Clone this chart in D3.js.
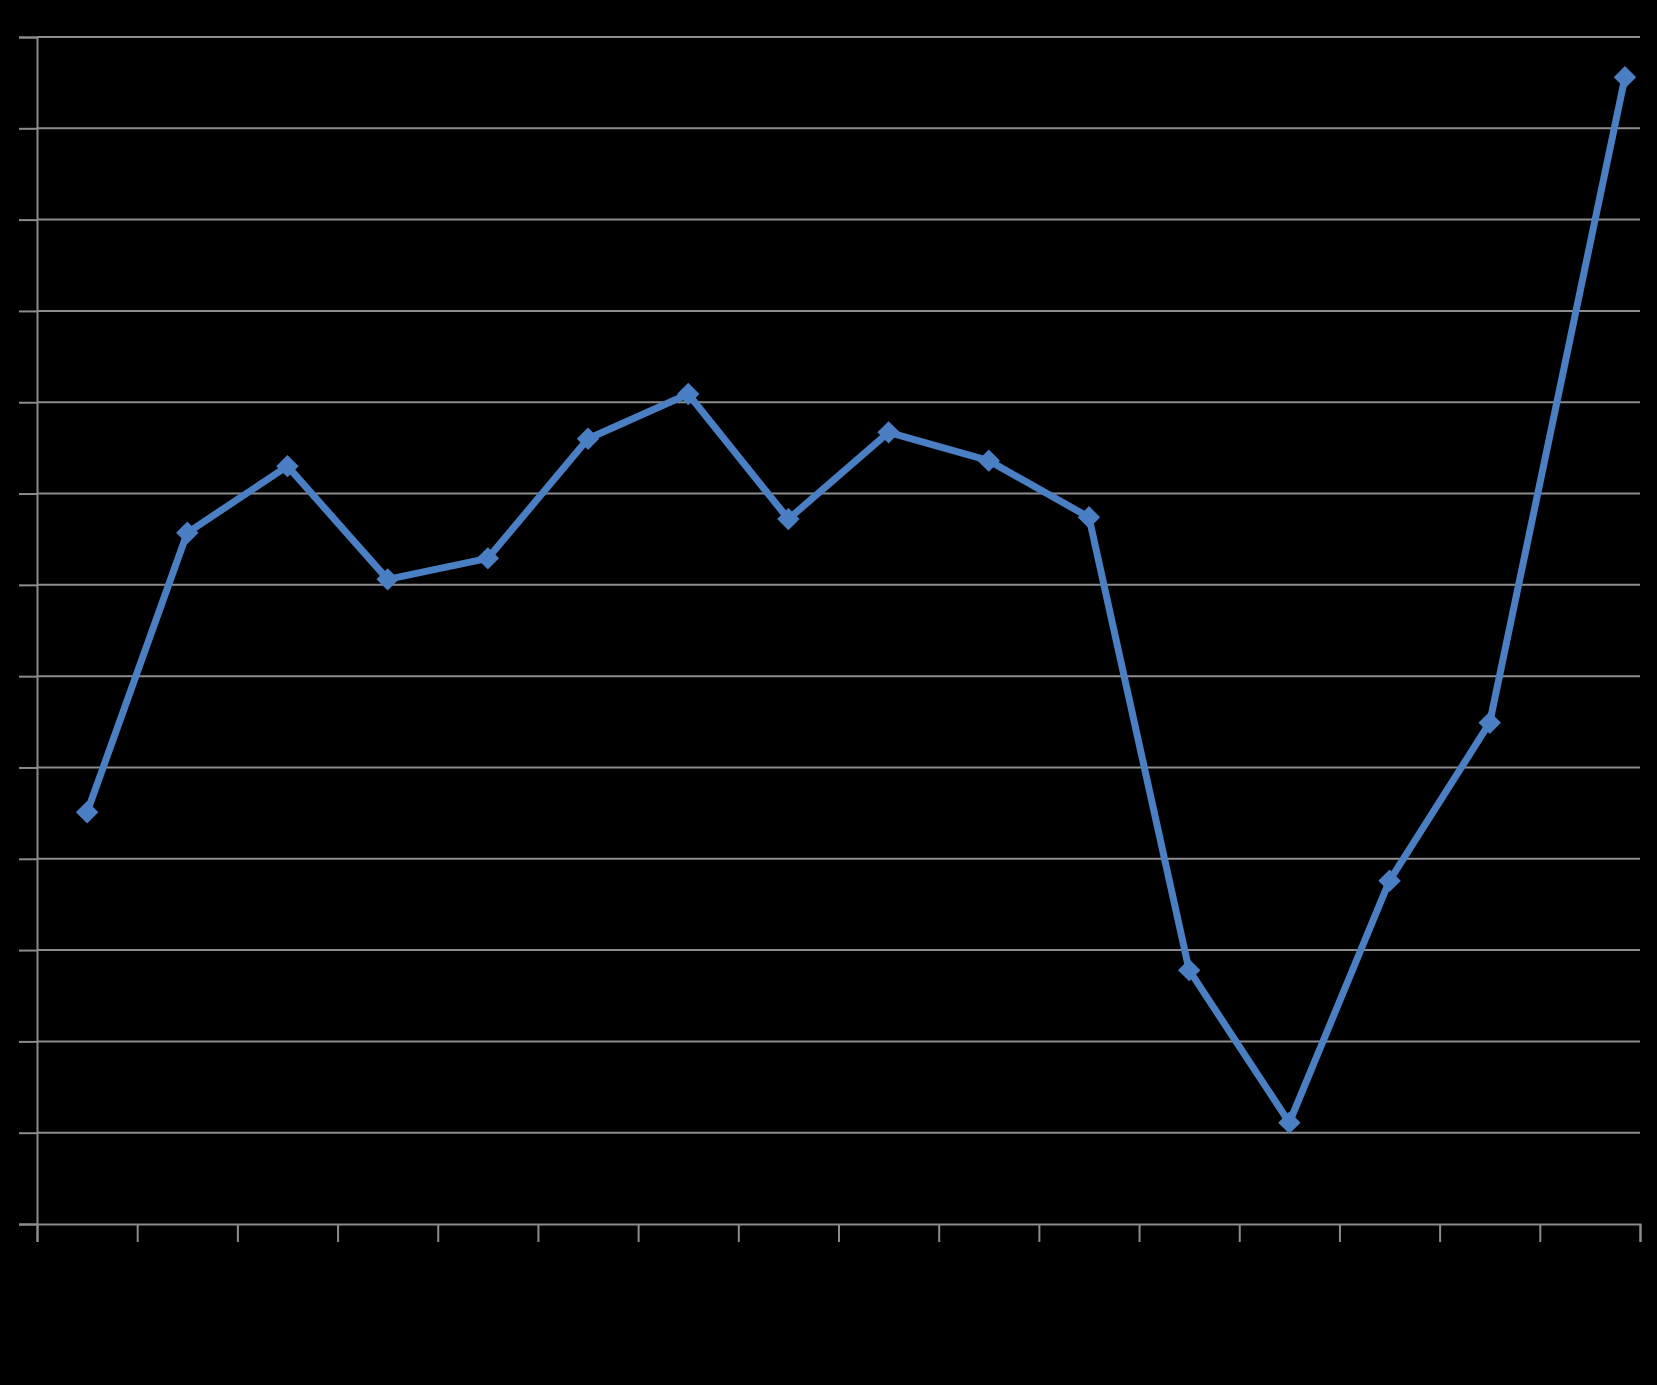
<!DOCTYPE html>
<html>
<head>
<meta charset="utf-8">
<script src="https://cdn.jsdelivr.net/npm/d3@7"></script>
<style>
  html, body { margin: 0; padding: 0; background: #000; }
  svg { display: block; }
</style>
</head>
<body>
<svg id="chart" width="1657" height="1385"></svg>
<script>
// ---- data ----
const categories = ["1","2","3","4","5","6","7","8","9","10","11","12","13","14","15","16"];
const xPositions = [1,2,3,4,5,6,7,8,9,10,11,12,13,14,15,16.35];
const seriesValues = [4.51,7.57,8.30,7.06,7.29,8.60,9.09,7.72,8.67,8.36,7.74,2.78,1.11,3.76,5.49,12.56];
const yTickValues = [0,1,2,3,4,5,6,7,8,9,10,11,12,13];

// ---- layout ----
const svg = d3.select("#chart");
const W = 1657, H = 1385;
const m = { left: 37, right: 17, top: 37, bottom: 161 };
const iw = W - m.left - m.right, ih = H - m.top - m.bottom;

svg.append("rect").attr("width", W).attr("height", H).attr("fill", "#000");

const g = svg.append("g").attr("transform", `translate(${m.left},${m.top})`);

const x = d3.scaleLinear().domain([0.5, categories.length + 0.5]).range([0, iw]);
const y = d3.scaleLinear().domain([0, 13]).range([ih, 0]);

const gridColor = "#8c8c8c";

// horizontal gridlines
g.append("g").selectAll("line").data(yTickValues.slice(1)).join("line")
  .attr("x1", 0).attr("x2", iw)
  .attr("y1", d => y(d)).attr("y2", d => y(d))
  .attr("stroke", gridColor).attr("stroke-width", 2);

// y axis
const yAxis = g.append("g").call(d3.axisLeft(y).tickValues(yTickValues).tickSize(18).tickPadding(2));
yAxis.select(".domain").attr("stroke", gridColor).attr("stroke-width", 2);
yAxis.selectAll(".tick line").attr("stroke", gridColor).attr("stroke-width", 2);
yAxis.selectAll("text").attr("fill", "#000").style("font-family", "'Liberation Sans', sans-serif").style("font-size", "11px");

// x axis with boundary ticks
const boundaries = d3.range(0.5, categories.length + 1, 1);
const xAxis = g.append("g").attr("transform", `translate(0,${ih})`)
  .call(d3.axisBottom(x).tickValues(boundaries).tickSize(18).tickFormat(""));
xAxis.select(".domain").attr("stroke", gridColor).attr("stroke-width", 2);
xAxis.selectAll(".tick line").attr("stroke", gridColor).attr("stroke-width", 2);

// category labels (black, as in reference)
g.append("g").selectAll("text").data(categories).join("text")
  .attr("x", (d, i) => x(i + 1)).attr("y", ih + 40)
  .attr("text-anchor", "middle").attr("fill", "#000")
  .style("font-family", "'Liberation Sans', sans-serif").style("font-size", "18px")
  .text(d => d);

// line
const pts = seriesValues.map((v, i) => [xPositions[i], v]);
const lineColor = "#4a7fc4";
g.append("path").datum(pts)
  .attr("fill", "none").attr("stroke", lineColor).attr("stroke-width", 7)
  .attr("stroke-linejoin", "round")
  .attr("d", d3.line().x(d => x(d[0])).y(d => y(d[1])));

// diamond markers
g.append("g").selectAll("path").data(pts).join("path")
  .attr("transform", d => `translate(${x(d[0])},${y(d[1])})`)
  .attr("d", d3.symbol().type(d3.symbolDiamond2).size(320))
  .attr("fill", lineColor);
</script>
</body>
</html>
